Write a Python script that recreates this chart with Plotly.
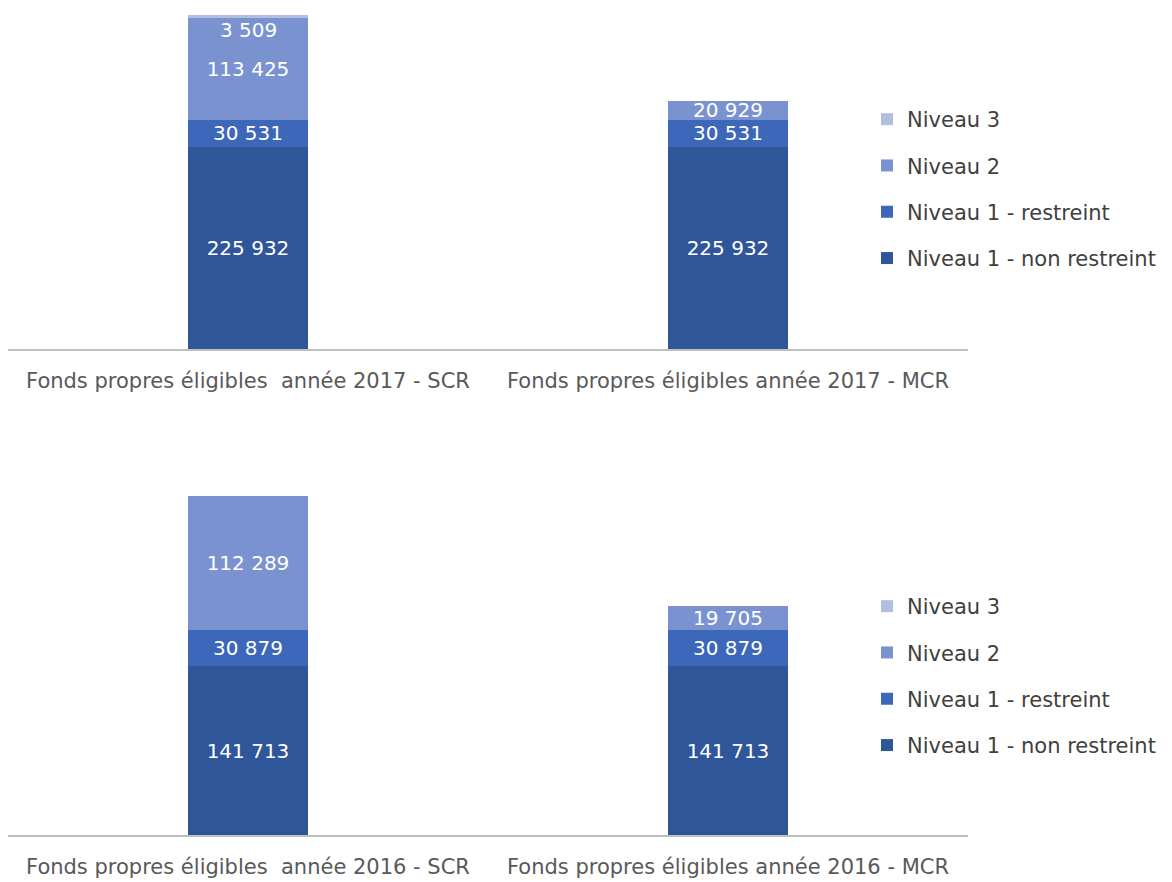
import plotly.graph_objects as go

cats_2017 = ["Fonds propres éligibles  année 2017 - SCR", "Fonds propres éligibles année 2017 - MCR"]
cats_2016 = ["Fonds propres éligibles  année 2016 - SCR", "Fonds propres éligibles année 2016 - MCR"]

series_names = ["Niveau 1 - non restreint", "Niveau 1 - restreint", "Niveau 2", "Niveau 3"]
colors = ["#30569A", "#3D67B8", "#7A93D0", "#B2BEE0"]

n1_nr_2017 = [225932, 225932]
n1_r_2017 = [30531, 30531]
n2_2017 = [113425, 20929]
n3_2017 = [3509, None]

n1_nr_2016 = [141713, 141713]
n1_r_2016 = [30879, 30879]
n2_2016 = [112289, 19705]
n3_2016 = [None, None]

data_2017 = [n1_nr_2017, n1_r_2017, n2_2017, n3_2017]
data_2016 = [n1_nr_2016, n1_r_2016, n2_2016, n3_2016]

FONT = "DejaVu Sans"
fig = go.Figure()

def add_block(cats, data, xa, ya, legend, tag):
    for i, (name, vals, col) in enumerate(zip(series_names, data, colors)):
        is_top = (i == 3)
        fig.add_trace(go.Bar(
            x=cats, y=vals, name=name, marker=dict(color=col, line=dict(width=0)),
            xaxis=xa, yaxis=ya, legend=legend, legendgroup=tag + name,
            legendrank=10 - i,
            texttemplate="%{y:,}", textposition="none" if is_top else "inside",
            insidetextanchor="middle", textangle=0,
            textfont=dict(family=FONT, size=20, color="white"),
            hoverinfo="skip",
        ))
    # label for the thin top segment, placed just below the stack top
    for j, c in enumerate(cats):
        v = data[3][j]
        if v:
            total = sum(d[j] or 0 for d in data)
            fig.add_annotation(x=c, y=total, xref=xa, yref=ya, yanchor="top", yshift=-1,
                               text=f"{v:,}".replace(",", " "), showarrow=False,
                               font=dict(family=FONT, size=20, color="white"))

add_block(cats_2017, data_2017, "x", "y", "legend", "a")
add_block(cats_2016, data_2016, "x2", "y2", "legend2", "b")

# page body adds an 8px offset; figure coordinates are reference pixels minus 8
OFF = 8
W, H = 1164, 874
def px_x(x):
    return (x - OFF) / W
def px_y(y):
    return min(1.0, max(0.0, 1 - (y - OFF) / H))

xdom = [px_x(8), px_x(968)]
axis_common = dict(showgrid=False, zeroline=False, showline=True, linecolor="#BFBFBF", linewidth=2,
                   ticks="", ticklabelstandoff=12,
                   tickfont=dict(family=FONT, size=21, color="#595959"), fixedrange=True)

legend_common = dict(x=px_x(867), xanchor="left", yanchor="top", traceorder="grouped",
                     tracegroupgap=16, font=dict(family=FONT, size=21, color="#404040"),
                     bgcolor="rgba(0,0,0,0)")

fig.update_layout(
    width=W, height=H, barmode="stack", bargap=0.748,
    margin=dict(l=0, r=0, t=0, b=0),
    paper_bgcolor="white", plot_bgcolor="white",
    separators=", ",
    uniformtext=dict(minsize=20, mode="show"),
    xaxis=dict(domain=xdom, anchor="y", **axis_common),
    yaxis=dict(domain=[px_y(349), px_y(8)], range=[0, 381220], visible=False, fixedrange=True),
    xaxis2=dict(domain=xdom, anchor="y2", **axis_common),
    yaxis2=dict(domain=[px_y(835), px_y(485)], range=[0, 294120], visible=False, fixedrange=True),
    legend=dict(y=px_y(99), **legend_common),
    legend2=dict(y=px_y(586), **legend_common),
)

fig.write_html("out.html")
